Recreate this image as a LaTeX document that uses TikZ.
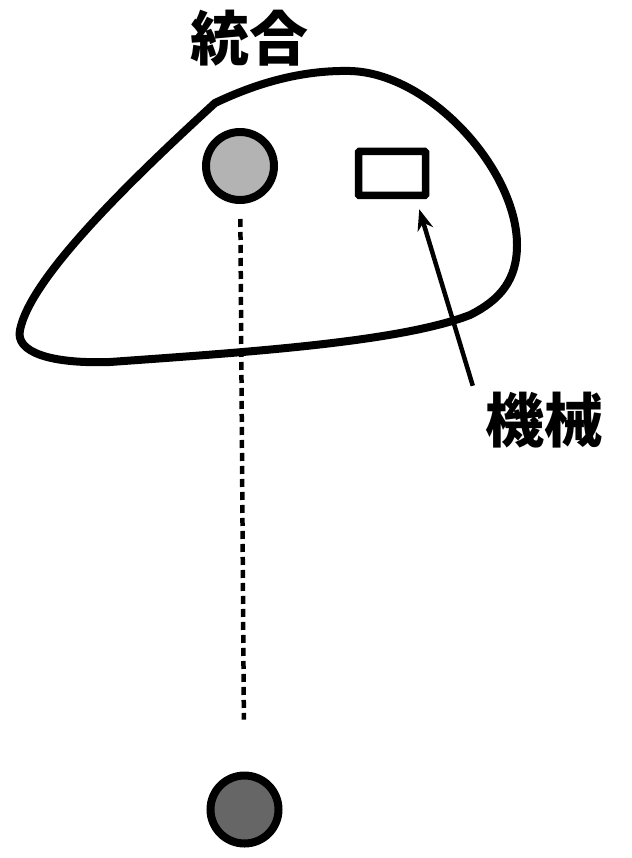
\documentclass[tikz,border=0pt]{standalone}
\usepackage{fontspec}
\newfontfamily\cjk{Noto Sans CJK JP}
\usepackage{xcolor}
\definecolor{DotLight}{HTML}{B3B3B3}
\definecolor{DotDark}{HTML}{666666}
\usepackage{tikz}
\usetikzlibrary{arrows.meta,calc,positioning}

\begin{document}
\begin{tikzpicture}[x=1pt,y=-1pt,
    region/.style={draw=black,line width=8pt,line join=round},
    dot/.style={circle,draw=black,line width=8pt,minimum size=68pt,inner sep=0pt},
    device/.style={draw=black,line width=7.5pt,minimum width=67pt,minimum height=44pt,rounded corners=1pt,inner sep=0pt},
    caption/.style={font=\cjk\bfseries\fontsize{59}{64}\selectfont,inner sep=0pt},
    connector/.style={-{Stealth[length=21pt,width=16pt]},line width=4.5pt},
    link/.style={line width=4.5pt,dash pattern=on 8pt off 5pt,shorten <=15pt,shorten >=52pt}
  ]
    \useasboundingbox (0,0) rectangle (631,858);
    % outline of the merged area
    \draw[region] (215,103) .. controls (255,84) and (300,70) .. (350,71)
      .. controls (430,73) and (517,170) .. (517,245)
      .. controls (517,280) and (500,300) .. (470,315)
      .. controls (400,342) and (250,352) .. (110,362)
      .. controls (50,364) and (15,352) .. (20,330)
      .. controls (30,280) and (120,190) .. cycle;
    \node[caption] (merge) at (249,38) {統合};
    \node[dot,fill=DotLight] (upper) at (240,166) {};
    \node[device] (machine) at (392,173.5) {};
    \node[dot,fill=DotDark] (lower) at (244.5,809.5) {};
    \node[caption] (machinelabel) at (544,420) {機械};
    \draw[link] (upper) -- (lower);
    \draw[connector] ($(machinelabel.north west)+(-12,-6)$) -- ($(machine.south east)+(-10,10)$);
  \end{tikzpicture}
\end{document}
